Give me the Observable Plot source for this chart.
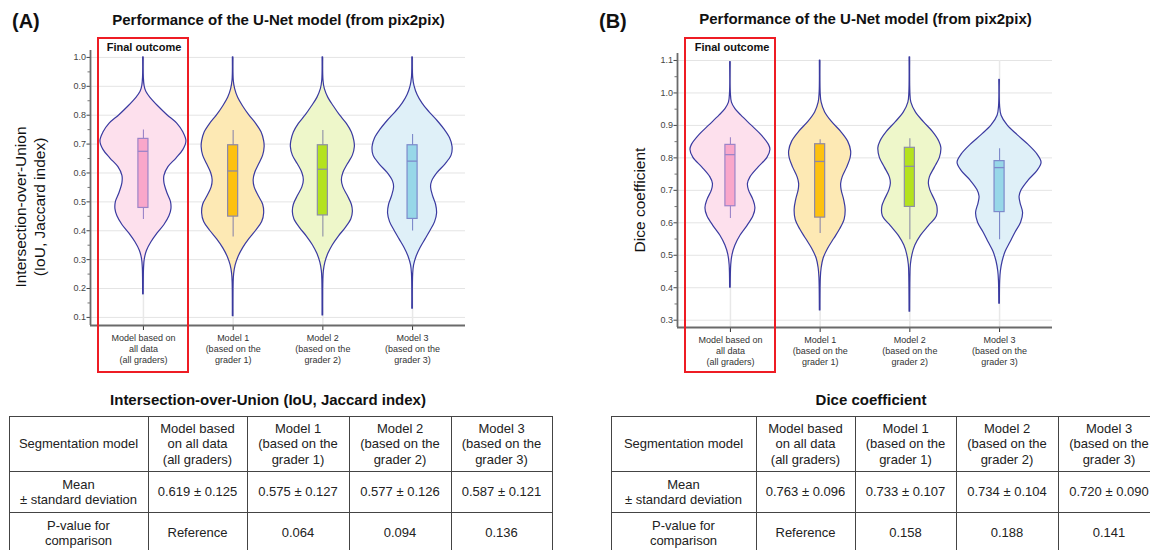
<!DOCTYPE html>
<html><head><meta charset="utf-8">
<script src="https://cdn.jsdelivr.net/npm/d3@7"></script>
<script src="https://cdn.jsdelivr.net/npm/@observablehq/plot@0.6"></script>
<style>
html,body{margin:0;padding:0;background:#fff;}
body{width:1150px;height:550px;overflow:hidden;position:relative;font-family:"Liberation Sans",Arial,sans-serif;color:#111;}
.abs{position:absolute;line-height:1;white-space:nowrap;z-index:6;}
.c{transform:translate(-50%,-50%);}
.bold{font-weight:bold;}
.redbox{position:absolute;border:2px solid #ee1c24;box-sizing:border-box;z-index:5;background:transparent;}
.ylab{position:absolute;font-size:15.5px;line-height:1.2;text-align:center;white-space:nowrap;transform:translate(-50%,-50%) rotate(-90deg);color:#111;z-index:6;}
table.t{position:absolute;border-collapse:collapse;table-layout:fixed;font-size:13px;line-height:15.5px;color:#222;}
table.t td{border:1.5px solid #444;text-align:center;vertical-align:middle;padding:0;white-space:pre-line;}
svg{position:absolute;top:0;z-index:1;}
</style></head>
<body>
<script>
// ---------- data ----------
const categories = [
  "Model based on\nall data\n(all graders)",
  "Model 1\n(based on the\ngrader 1)",
  "Model 2\n(based on the\ngrader 2)",
  "Model 3\n(based on the\ngrader 3)"
];

// violin outlines: [value, density (half-width)]
const iouAll = [[1.0,0.3],[0.93,0.4],[0.90,1.2],[0.88,3],[0.86,7],[0.83,15],[0.80,24],[0.77,34],[0.74,40],[0.71,43],[0.68,40],[0.65,33],[0.62,25],[0.59,21],[0.565,21],[0.53,24],[0.50,27.5],[0.475,28],[0.45,26],[0.42,21],[0.39,14],[0.36,8],[0.33,3.5],[0.30,1.3],[0.27,0.6],[0.24,0.4],[0.18,0.3]];
const iouGrader1 = [[1.0,0.3],[0.92,0.6],[0.89,2],[0.86,5],[0.83,10],[0.80,16],[0.77,23],[0.74,28.5],[0.71,31],[0.69,31.5],[0.66,30],[0.63,26],[0.60,22],[0.575,20.5],[0.55,21.5],[0.52,25.5],[0.49,30],[0.46,31],[0.43,29],[0.40,23],[0.37,16],[0.34,10],[0.31,5.5],[0.28,2.5],[0.25,1],[0.22,0.5],[0.104,0.3]];
const iouGrader2 = [[1.0,0.3],[0.92,0.6],[0.89,2],[0.86,5.5],[0.83,11],[0.80,17],[0.77,24],[0.74,29],[0.71,31.5],[0.69,32],[0.66,30],[0.63,25],[0.60,20.5],[0.575,19],[0.55,20.5],[0.52,25],[0.49,29],[0.465,30],[0.44,28.5],[0.41,23],[0.38,16],[0.35,10],[0.32,5.5],[0.29,2.5],[0.26,1],[0.23,0.5],[0.107,0.3]];
const iouGrader3 = [[1.0,0.3],[0.93,0.6],[0.90,2],[0.87,5],[0.84,10],[0.81,17],[0.78,25],[0.75,32],[0.72,37.5],[0.69,40],[0.66,39],[0.63,33],[0.60,25],[0.57,19.5],[0.55,18.5],[0.52,20.5],[0.49,23.5],[0.46,24.5],[0.43,22.5],[0.40,18],[0.37,13],[0.34,8],[0.31,4],[0.28,1.5],[0.25,0.6],[0.13,0.3]];

const diceAll = [[1.095,0.3],[1.0,0.4],[0.97,1.5],[0.95,5],[0.93,11],[0.90,21],[0.87,31],[0.84,38.5],[0.825,40],[0.80,37],[0.77,28],[0.74,20],[0.72,17.5],[0.70,18.5],[0.67,23],[0.645,25],[0.62,23],[0.59,17],[0.56,10],[0.53,5],[0.50,2],[0.47,0.8],[0.40,0.3]];
const diceGrader1 = [[1.10,0.3],[1.0,0.5],[0.97,1.5],[0.94,5],[0.91,12],[0.88,21],[0.85,28],[0.82,31],[0.80,30.5],[0.77,27],[0.74,22.5],[0.72,21],[0.70,21.5],[0.67,24],[0.64,25.5],[0.61,24.5],[0.58,20],[0.55,14],[0.52,8],[0.49,3.5],[0.46,1.5],[0.43,0.7],[0.33,0.3]];
const diceGrader2 = [[1.11,0.3],[1.0,0.5],[0.97,1.5],[0.94,6],[0.91,14],[0.88,23],[0.85,29.5],[0.83,31.5],[0.80,30],[0.77,25],[0.74,20],[0.72,19],[0.70,20.5],[0.67,25],[0.65,27.5],[0.62,27],[0.59,19],[0.56,11],[0.53,5.5],[0.50,2.5],[0.47,1],[0.44,0.6],[0.326,0.3]];
const diceGrader3 = [[1.04,0.3],[0.96,0.5],[0.93,2],[0.90,8],[0.87,18],[0.84,29],[0.81,38],[0.785,42],[0.76,38],[0.73,29],[0.70,22],[0.68,20],[0.66,21],[0.63,23.5],[0.60,21.5],[0.57,16],[0.54,11],[0.51,6],[0.48,3],[0.45,1.3],[0.42,0.6],[0.351,0.3]];

// box plot statistics
const iouWhiskerLow  = [0.439, 0.378, 0.378, 0.399];
const iouQ1          = [0.479, 0.449, 0.453, 0.441];
const iouMedian      = [0.675, 0.607, 0.613, 0.641];
const iouQ3          = [0.718, 0.696, 0.696, 0.696];
const iouWhiskerHigh = [0.749, 0.747, 0.747, 0.733];

const diceWhiskerLow  = [0.613, 0.567, 0.548, 0.548];
const diceQ1          = [0.651, 0.616, 0.649, 0.633];
const diceMedian      = [0.810, 0.789, 0.774, 0.770];
const diceQ3          = [0.840, 0.842, 0.831, 0.790];
const diceWhiskerHigh = [0.862, 0.856, 0.859, 0.828];

// axis ticks
const iouTicks = [0.1,0.2,0.3,0.4,0.5,0.6,0.7,0.8,0.9,1.0];
const iouMinor = [0.15,0.25,0.35,0.45,0.55,0.65,0.75,0.85,0.95];
const diceTicks = [0.3,0.4,0.5,0.6,0.7,0.8,0.9,1.0,1.1];
const diceMinor = [0.35,0.45,0.55,0.65,0.75,0.85,0.95,1.05];

// tables
const tableHeader = ["Segmentation model","Model based\non all data\n(all graders)","Model 1\n(based on the\ngrader 1)","Model 2\n(based on the\ngrader 2)","Model 3\n(based on the\ngrader 3)"];
const rowLabels = ["Mean\n± standard deviation","P-value for\ncomparison"];
const iouMeanSd = ["0.619 ± 0.125","0.575 ± 0.127","0.577 ± 0.126","0.587 ± 0.121"];
const iouPValue = ["Reference","0.064","0.094","0.136"];
const diceMeanSd = ["0.763 ± 0.096","0.733 ± 0.107","0.734 ± 0.104","0.720 ± 0.090"];
const dicePValue = ["Reference","0.158","0.188","0.141"];

// ---------- styles ----------
const W = 587, H = 372;
const X_DOMAIN = [-0.59, 3.59];
const K = 1 / 89.7;          // density -> category-width units
const BOX_HALF = 0.056;
const fills = ["#fde0ed","#fde9b4","#eef7ca","#dff0f8"];
const boxFills = ["#f9a7ca","#fdc10f","#b4e21e","#97d7e8"];
const boxStrokes = ["#9c84c8","#8d88a8","#8d8fa6","#7d8acb"];
const VIOLIN_STROKE = "#3a3aa0";
const FONT = '"Liberation Sans", Arial, sans-serif';

function panel({profiles, lo, q1, med, q3, hi, yDomain, yTicks, yMinor, marginTop, marginBottom}) {
  const idx = categories.map((c, i) => i);
  const rows = profiles.flatMap((p, i) => p.map(([v, d]) => ({i, v, d})));
  const stats = idx.map(i => ({i, lo: lo[i], q1: q1[i], med: med[i], q3: q3[i], hi: hi[i]}));
  return Plot.plot({
    width: W, height: H,
    marginLeft: 90, marginRight: 122, marginTop, marginBottom,
    x: {domain: X_DOMAIN, axis: null},
    y: {domain: yDomain, axis: null},
    color: {type: "identity"},
    style: {fontFamily: FONT, background: "transparent", overflow: "visible"},
    marks: [
      Plot.ruleY(yTicks, {stroke: "#e4e4e4", strokeWidth: 1}),
      Plot.ruleX(idx, {y1: yDomain[0], y2: yTicks[yTicks.length - 1], stroke: "#e8e8e8", strokeWidth: 1.5}),
      Plot.areaX(rows, {y: "v", x1: d => d.i - d.d * K, x2: d => d.i + d.d * K, z: "i",
        fill: d => fills[d.i], stroke: VIOLIN_STROKE, strokeWidth: 1.2, curve: "catmull-rom"}),
      Plot.ruleX(stats, {x: "i", y1: "lo", y2: "hi", stroke: d => boxStrokes[d.i], strokeWidth: 1.1}),
      Plot.rect(stats, {x1: d => d.i - BOX_HALF, x2: d => d.i + BOX_HALF, y1: "q1", y2: "q3",
        fill: d => boxFills[d.i], stroke: d => boxStrokes[d.i], strokeWidth: 1.2}),
      Plot.ruleY(stats, {y: "med", x1: d => d.i - BOX_HALF, x2: d => d.i + BOX_HALF, stroke: d => boxStrokes[d.i], strokeWidth: 1.3}),
      Plot.axisY({ticks: yMinor, tickSize: 2.5, tickFormat: () => "", color: "#777", label: null}),
      Plot.axisY({ticks: yTicks, tickSize: 3.5, tickPadding: 1, tickFormat: ".1f", fontSize: 9, color: "#444", label: null}),
      Plot.axisX({ticks: idx, tickFormat: i => categories[i], tickSize: 5, tickPadding: 2.5, fontSize: 9, lineHeight: 1.22, color: "#333", label: null}),
      Plot.ruleX([X_DOMAIN[0]], {stroke: "#6a6a6a", strokeWidth: 1.8}),
      Plot.ruleY([yDomain[0]], {stroke: "#6a6a6a", strokeWidth: 1.8})
    ]
  });
}

const svgA = panel({
  profiles: [iouAll, iouGrader1, iouGrader2, iouGrader3],
  lo: iouWhiskerLow, q1: iouQ1, med: iouMedian, q3: iouQ3, hi: iouWhiskerHigh,
  yDomain: [0.072, 1.024], yTicks: iouTicks, yMinor: iouMinor, marginTop: 50, marginBottom: 47
});
svgA.style.left = "0px";
document.body.appendChild(svgA);

const svgB = panel({
  profiles: [diceAll, diceGrader1, diceGrader2, diceGrader3],
  lo: diceWhiskerLow, q1: diceQ1, med: diceMedian, q3: diceQ3, hi: diceWhiskerHigh,
  yDomain: [0.2775, 1.1215], yTicks: diceTicks, yMinor: diceMinor, marginTop: 53, marginBottom: 45
});
svgB.style.left = "587px";
document.body.appendChild(svgB);

function addDiv(cls, text, styles) {
  const d = document.createElement("div");
  d.className = cls;
  d.textContent = text;
  Object.assign(d.style, styles);
  document.body.appendChild(d);
  return d;
}

// panel labels and titles
addDiv("abs bold", "(A)", {left: "12px", top: "11px", fontSize: "20px"});
addDiv("abs bold c", "Performance of the U-Net model (from pix2pix)", {left: "278.5px", top: "19px", fontSize: "15px"});
addDiv("abs bold", "(B)", {left: "599px", top: "11px", fontSize: "20px"});
addDiv("abs bold c", "Performance of the U-Net model (from pix2pix)", {left: "865.5px", top: "18px", fontSize: "15px"});

// red "final outcome" boxes
addDiv("redbox", "", {left: "97px", top: "37px", width: "92px", height: "336px"});
addDiv("redbox", "", {left: "684px", top: "37px", width: "92px", height: "336px"});
addDiv("abs bold c", "Final outcome", {left: "144px", top: "47px", fontSize: "11px"});
addDiv("abs bold c", "Final outcome", {left: "732px", top: "46.5px", fontSize: "11px"});

// y axis labels
const ya = addDiv("ylab", "", {left: "31.3px", top: "207px"});
ya.innerHTML = "Intersection-over-Union<br>(IoU, Jaccard index)";
addDiv("ylab", "Dice coefficient", {left: "640px", top: "199.5px"});

// table titles
addDiv("abs bold c", "Intersection-over-Union (IoU, Jaccard index)", {left: "268px", top: "399px", fontSize: "15px"});
addDiv("abs bold c", "Dice coefficient", {left: "871px", top: "399px", fontSize: "15px"});

function makeTable(left, widths, meanSd, pValue) {
  const t = document.createElement("table");
  t.className = "t";
  t.style.left = left + "px";
  t.style.top = "416px";
  const cg = document.createElement("colgroup");
  widths.forEach(w => { const c = document.createElement("col"); c.style.width = w + "px"; cg.appendChild(c); });
  t.appendChild(cg);
  const rows = [[tableHeader, 55], [[rowLabels[0], ...meanSd], 41], [[rowLabels[1], ...pValue], 41]];
  for (const [cells, h] of rows) {
    const tr = document.createElement("tr");
    tr.style.height = h + "px";
    for (const c of cells) { const td = document.createElement("td"); td.textContent = c; tr.appendChild(td); }
    t.appendChild(tr);
  }
  t.style.width = widths.reduce((a, b) => a + b, 0) + "px";
  document.body.appendChild(t);
}
makeTable(8.5, [139, 99, 102, 102, 101], iouMeanSd, iouPValue);
makeTable(610.5, [145, 99, 101, 102, 102], diceMeanSd, dicePValue);
</script>
</body></html>
